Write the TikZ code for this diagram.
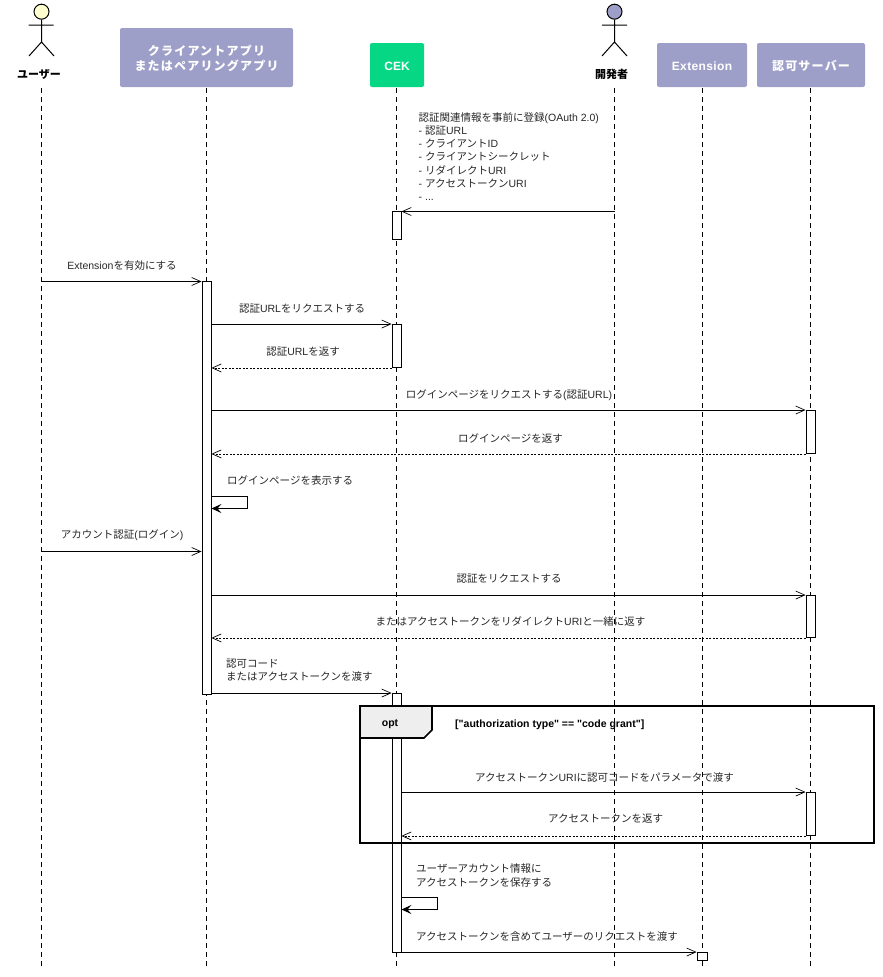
\documentclass[tikz,border=0pt]{standalone}
\usepackage{fontspec}
\setmainfont{Liberation Sans}
\newfontfamily\plainf{Liberation Sans}
\newfontfamily\jpf{Noto Sans CJK JP}
\newfontfamily\jphead[LetterSpace=10]{Noto Sans CJK JP}
\newfontfamily\lathead[LetterSpace=3]{Liberation Sans}
\newcommand\J[1]{{\jpf #1}}
\usetikzlibrary{arrows.meta,calc}
\definecolor{headblue}{HTML}{9E9FC8}
\definecolor{cekgreen}{HTML}{06D785}
\definecolor{actyellow}{HTML}{FEFECE}
\definecolor{tabgray}{HTML}{EEEEEE}
\tikzset{
  headbox/.style={draw=none,fill=headblue,rounded corners=2pt,inner sep=0pt},
  headtext/.style={text=white,font=\fontsize{12}{15}\selectfont\bfseries\jphead,align=center,inner sep=0pt,yshift=-1pt},
  lifeline/.style={line width=0.9pt,dash pattern=on 5pt off 4pt},
  bar/.style={draw=black,fill=white,line width=0.9pt,inner sep=0pt,minimum width=9pt,rectangle},
  msg/.style={line width=0.9pt,-{Straight Barb[length=9pt,width=8pt,line width=0.7pt]}},
  ret/.style={line width=0.9pt,dash pattern=on 2pt off 1.5pt,-{Straight Barb[length=9pt,width=8pt,line width=0.7pt,sep=0pt]}},
  selfmsg/.style={line width=0.9pt,-{Stealth[length=10pt,width=9pt,inset=4pt]}},
  lbl/.style={inner sep=0pt,font=\fontsize{10.5}{13.2}\selectfont,text=black!85,align=left},
  lblw/.style={lbl,anchor=west},
  actorlbl/.style={inner sep=0pt,font=\fontsize{11}{13}\selectfont\bfseries\jpf},
  stick/.style={line width=1pt},
}
\begin{document}
\begin{tikzpicture}[x=1pt,y=-1pt]
\useasboundingbox (0,0) rectangle (883,977);

% header boxes
\node[headbox,minimum width=173pt,minimum height=59pt,label={[headtext]center:クライアントアプリ\\またはペアリングアプリ}] (app) at (206.5,57.5) {};
\node[headbox,fill=cekgreen,minimum width=54pt,minimum height=44pt,label={[headtext,font=\fontsize{12}{15}\selectfont\bfseries]center:CEK}] (cek) at (397,65) {};
\node[headbox,minimum width=90pt,minimum height=44pt,label={[headtext,font=\fontsize{12}{15}\selectfont\bfseries\lathead]center:Extension}] (ext) at (702,65) {};
\node[headbox,minimum width=108pt,minimum height=44pt,label={[headtext]center:認可サーバー}] (auth) at (811,65) {};

% actors
\node[draw,stick,circle,fill=actyellow,minimum size=15pt,inner sep=0pt] (uhead) at (41.5,11.7) {};
\node[draw,stick,circle,fill=headblue,minimum size=15pt,inner sep=0pt] (dhead) at (614.5,11.7) {};
\coordinate (uhip) at (41.5,42);
\coordinate (dhip) at (614.5,42);
\draw[stick] (uhead) -- (uhip) -- ++(-12.5,14) (uhip) -- ++(12.5,14) (28.5,25) -- (53.5,25);
\draw[stick] (dhead) -- (dhip) -- ++(-12.5,14) (dhip) -- ++(12.5,14) (602,25) -- (627,25);
\node[actorlbl] (ulabel) at (39,74) {ユーザー};
\node[actorlbl] (dlabel) at (611.5,74) {開発者};

% lifelines
\coordinate (ut) at (41.5,88);  \coordinate (ub) at (41.5,967);
\coordinate (at) at (206.5,88); \coordinate (ab) at (206.5,967);
\coordinate (ct) at (396.5,88); \coordinate (cb) at (396.5,967);
\coordinate (dt) at (614.5,88); \coordinate (db) at (614.5,967);
\coordinate (et) at (702.5,88); \coordinate (eb) at (702.5,967);
\coordinate (st) at (810.5,88); \coordinate (sb) at (810.5,967);
\foreach \a/\b in {ut/ub,at/ab,ct/cb,dt/db,et/eb,st/sb}{\draw[lifeline] (\a) -- (\b);}

% activation bars
\node[bar,minimum height=28pt]  (c1) at (396.5,225.5) {};
\node[bar,minimum height=413pt] (a1) at (206.5,488) {};
\node[bar,minimum height=43pt]  (c2) at (396.5,346) {};
\node[bar,minimum height=43pt]  (s1) at (810.5,432) {};
\node[bar,minimum height=42pt]  (s2) at (810.5,616.5) {};
\node[bar,minimum height=259pt] (c3) at (396.5,823) {};
\node[bar,minimum height=43pt]  (s3) at (810.5,814) {};
\node[bar,minimum width=10pt,minimum height=8pt] (e1) at (702,956.5) {};

% free ends
\coordinate (dev211) at (614.5,211.5);
\coordinate (usr281) at (41.5,281.5);
\coordinate (usr551) at (41.5,551.5);

% messages
\draw[msg] (dev211) -- (dev211 -| c1.east);
\draw[msg] (usr281) -- (usr281 -| a1.west);
\draw[msg] (c2.north west -| a1.east) -- (c2.north west);
\draw[ret] (c2.south west) -- (c2.south west -| a1.east);
\draw[msg] (s1.north west -| a1.east) -- (s1.north west);
\draw[ret] (s1.south west) -- (s1.south west -| a1.east);
\coordinate (self1a) at (a1.east |- 0,496.5);
\coordinate (self1b) at (a1.east |- 0,508.5);
\draw[selfmsg] (self1a) -- (247,496.5) -- (247,508.5) -- (self1b);
\draw[msg] (usr551) -- (usr551 -| a1.west);
\draw[msg] (s2.north west -| a1.east) -- (s2.north west);
\draw[ret] (s2.south west) -- (s2.south west -| a1.east);
\draw[msg] (c3.north west -| a1.east) -- (c3.north west);

% opt frame
\draw[line width=2pt] (360,706) rectangle (874,843);
\draw[line width=1.6pt,fill=tabgray] (360,706) -- (432,706) -- (432,730) -- (424,738) -- (360,738) -- cycle;
\node[inner sep=0pt,font=\fontsize{10.5}{13}\selectfont\bfseries] (opt) at (390,724.5) {opt};
\node[inner sep=0pt,anchor=west,font=\fontsize{10.5}{13}\selectfont\bfseries\plainf] (guard) at (455,724.5) {["authorization type" == "code grant"]};
\draw[lifeline] (614.5,700) -- (614.5,740);

\draw[msg] (s3.north west -| c3.east) -- (s3.north west);
\draw[ret] (s3.south west) -- (s3.south west -| c3.east);
\coordinate (self2a) at (c3.east |- 0,897.5);
\coordinate (self2b) at (c3.east |- 0,909.5);
\draw[selfmsg] (self2a) -- (437,897.5) -- (437,909.5) -- (self2b);
\draw[msg] (e1.north west -| c3.east) -- (e1.north west);

% labels
\node[lblw] (t1) at (418.5,156.5) {\J{認証関連情報を事前に登録}(OAuth 2.0)\\- \J{認証}URL\\- \J{クライアント}ID\\- \J{クライアントシークレット}\\- \J{リダイレクト}URI\\- \J{アクセストークン}URI\\- ...};
\node[lbl] (t2) at (122,266) {Extension\J{を有効にする}};
\node[lbl] (t3) at (302,309) {\J{認証}URL\J{をリクエストする}};
\node[lbl] (t4) at (303,352) {\J{認証}URL\J{を返す}};
\node[lbl] (t5) at (509,395) {\J{ログインページをリクエストする}(\J{認証}URL)};
\node[lbl] (t6) at (510.5,438) {\J{ログインページを返す}};
\node[lblw] (t7) at (227,481) {\J{ログインページを表示する}};
\node[lbl] (t8) at (122,535) {\J{アカウント認証}(\J{ログイン})};
\node[lbl] (t9) at (509,579) {\J{認証をリクエストする}};
\node[lbl] (t10) at (510.5,621) {\J{またはアクセストークンをリダイレクト}URI\J{と一緒に返す}};
\node[lblw] (t11) at (226,670.5) {\J{認可コード}\\\J{またはアクセストークンを渡す}};
\node[lbl] (t12) at (604.5,777) {\J{アクセストークン}URI\J{に認可コードをパラメータで渡す}};
\node[lbl] (t13) at (605.5,819) {\J{アクセストークンを返す}};
\node[lblw] (t14) at (416,875.5) {\J{ユーザーアカウント情報に}\\\J{アクセストークンを保存する}};
\node[lblw] (t15) at (416,936) {\J{アクセストークンを含めてユーザーのリクエストを渡す}};
\end{tikzpicture}
\end{document}
